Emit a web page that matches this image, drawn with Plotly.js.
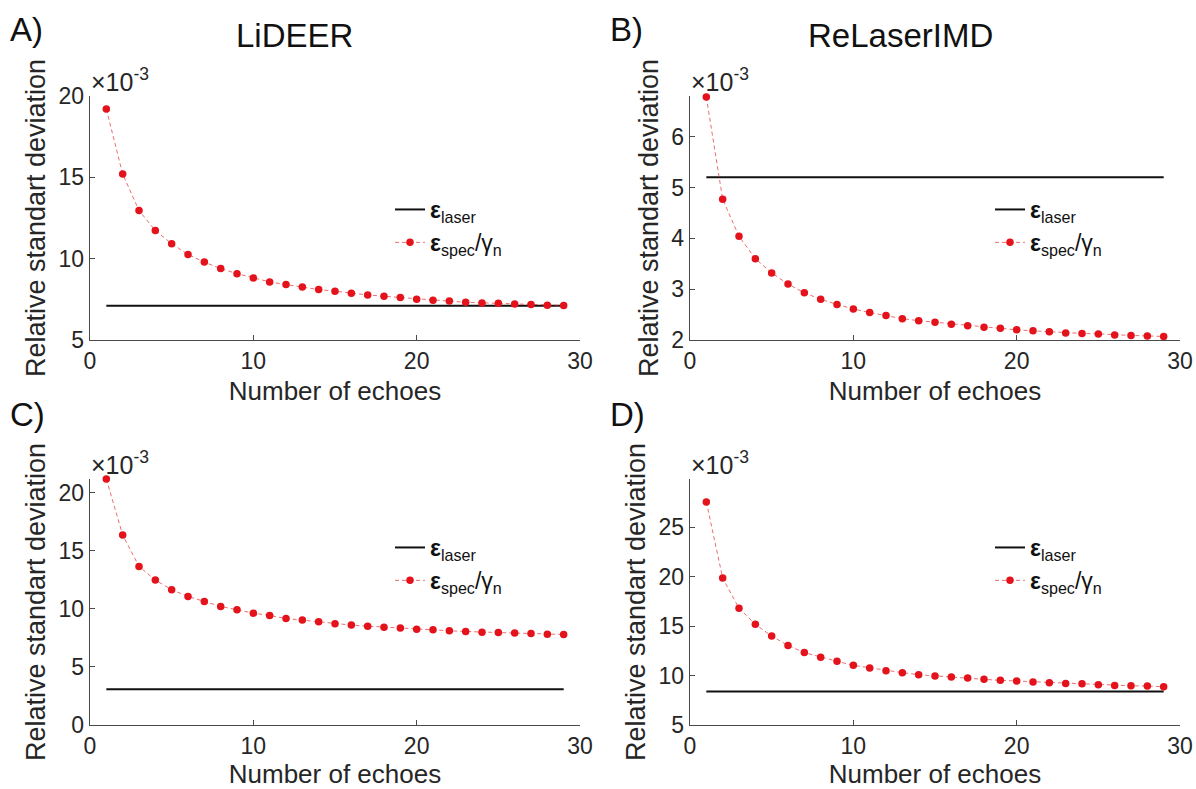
<!DOCTYPE html>
<html>
<head>
<meta charset="utf-8">
<script src="https://cdn.plot.ly/plotly-3.0.1.min.js"></script>
<style>
  html, body { margin: 0; padding: 0; background: #ffffff; }
  #chart { width: 1196px; height: 789px; }
</style>
</head>
<body>
<div id="chart"></div>
<script>
// Number of echoes on the x axis
const echoes = [1, 2, 3, 4, 5, 6, 7, 8, 9, 10, 11, 12, 13, 14, 15, 16, 17, 18, 19, 20, 21, 22, 23, 24, 25, 26, 27, 28, 29];

// Relative standard deviation (units of 1e-3)
// A) LiDEER
const specA = [19.2, 15.2, 12.96, 11.73, 10.92, 10.26, 9.79, 9.39, 9.08, 8.81, 8.57, 8.41, 8.26, 8.10, 8.00,
               7.88, 7.77, 7.69, 7.61, 7.51, 7.45, 7.39, 7.32, 7.28, 7.26, 7.22, 7.18, 7.14, 7.12];
const laserA = 7.1;
// B) ReLaserIMD
const specB = [6.78, 4.77, 4.04, 3.60, 3.32, 3.10, 2.93, 2.80, 2.70, 2.61, 2.54, 2.48, 2.42, 2.38, 2.35,
               2.31, 2.28, 2.25, 2.23, 2.20, 2.18, 2.16, 2.14, 2.13, 2.12, 2.10, 2.09, 2.08, 2.07];
const laserB = 5.2;
// C)
const specC = [21.2, 16.38, 13.67, 12.49, 11.66, 11.08, 10.65, 10.22, 9.93, 9.64, 9.44, 9.18, 9.04, 8.89, 8.72,
               8.61, 8.52, 8.43, 8.35, 8.26, 8.20, 8.12, 8.06, 8.00, 7.97, 7.92, 7.89, 7.83, 7.80];
const laserC = 3.08;
// D)
const specD = [27.58, 19.87, 16.82, 15.19, 14.0, 13.05, 12.33, 11.86, 11.45, 11.04, 10.77, 10.50, 10.30, 10.09, 9.96,
               9.86, 9.75, 9.62, 9.52, 9.45, 9.35, 9.28, 9.21, 9.18, 9.07, 9.01, 8.97, 8.94, 8.87];
const laserD = 8.4;

// Axis ranges and ticks
const xTicks = [0, 10, 20, 30];
const yRangeA = [5, 20],   yTicksA = [5, 10, 15, 20];
const yRangeB = [2, 6.8],  yTicksB = [2, 3, 4, 5, 6];
const yRangeC = [0, 21.2], yTicksC = [0, 5, 10, 15, 20];
const yRangeD = [5, 29.9], yTicksD = [5, 10, 15, 20, 25];

const panelTitles = ['LiDEER', 'ReLaserIMD'];
const panelLetters = ['A)', 'B)', 'C)', 'D)'];

const W = 1196, H = 789;
const px = x => x / W;
const py = y => 1 - y / H;

const FONT = 'Liberation Sans, Arial, Helvetica, sans-serif';
const TEXT = '#262626';
const AXIS = '#4a4a4a';
const RED = '#e3121b';

// Pixel boxes of the four axes: [left, right, top, bottom]
const boxes = [
  [90, 580, 96, 340],
  [690, 1180, 96, 340],
  [90, 580, 479, 725],
  [690, 1180, 479, 725]
];
// Top edge (px) of each panel legend
const legendTops = [188, 188, 526, 526];

const panels = [
  {spec: specA, laser: laserA, yr: yRangeA, yt: yTicksA},
  {spec: specB, laser: laserB, yr: yRangeB, yt: yTicksB},
  {spec: specC, laser: laserC, yr: yRangeC, yt: yTicksC},
  {spec: specD, laser: laserD, yr: yRangeD, yt: yTicksD}
];

const data = [];
const layout = {
  width: W, height: H,
  margin: {l: 0, r: 0, t: 0, b: 0},
  paper_bgcolor: '#ffffff',
  plot_bgcolor: 'rgba(0,0,0,0)',
  font: {family: FONT, color: TEXT},
  showlegend: true,
  annotations: []
};

panels.forEach((p, i) => {
  const n = i + 1;
  const sfx = n === 1 ? '' : String(n);
  const legendId = 'legend' + sfx;
  const b = boxes[i];

  data.push({
    x: [echoes[0], echoes[echoes.length - 1]],
    y: [p.laser, p.laser],
    xaxis: 'x' + sfx, yaxis: 'y' + sfx,
    mode: 'lines',
    line: {color: '#111111', width: 2},
    name: '<b>ε</b><sub>laser</sub>',
    legend: legendId,
    hoverinfo: 'skip'
  });
  data.push({
    x: echoes,
    y: p.spec,
    xaxis: 'x' + sfx, yaxis: 'y' + sfx,
    mode: 'lines+markers',
    line: {color: 'rgba(226,40,40,0.85)', width: 0.8, dash: '4px,3px'},
    marker: {color: RED, size: 7.5},
    cliponaxis: false,
    name: '<b>ε</b><sub>spec</sub>/γ<sub>n</sub>',
    legend: legendId,
    hoverinfo: 'skip'
  });

  layout['xaxis' + sfx] = {
    domain: [px(b[0]), px(b[1])],
    anchor: 'y' + sfx,
    range: [0, 30],
    tickmode: 'array', tickvals: xTicks,
    ticks: 'inside', ticklen: 5, tickwidth: 1, tickcolor: AXIS,
    showline: true, linecolor: AXIS, linewidth: 1.3,
    showgrid: false, zeroline: false,
    tickfont: {size: 23, color: TEXT, family: FONT},
    title: {text: 'Number of echoes', font: {size: 26, color: TEXT, family: FONT}, standoff: 9},
    fixedrange: true
  };
  layout['yaxis' + sfx] = {
    domain: [py(b[3]), py(b[2])],
    anchor: 'x' + sfx,
    range: p.yr,
    tickmode: 'array', tickvals: p.yt,
    ticks: 'inside', ticklen: 5, tickwidth: 1, tickcolor: AXIS,
    showline: true, linecolor: AXIS, linewidth: 1.3,
    showgrid: false, zeroline: false,
    tickfont: {size: 23, color: TEXT, family: FONT},
    title: {text: 'Relative standart deviation', font: {size: 27, color: TEXT, family: FONT}, standoff: 5},
    fixedrange: true
  };

  layout[legendId] = {
    x: px(b[0] + 300), y: py(legendTops[i]),
    xanchor: 'left', yanchor: 'top',
    bgcolor: 'rgba(0,0,0,0)', borderwidth: 0,
    font: {size: 23, color: '#111111', family: FONT},
    itemwidth: 30,
    tracegroupgap: 0
  };

  // scale factor label above the y axis
  layout.annotations.push({
    xref: 'paper', yref: 'paper',
    x: px(b[0] - 1), y: py(b[2] + 2),
    xanchor: 'left', yanchor: 'bottom',
    text: '×10<sup>-3</sup>',
    showarrow: false,
    font: {size: 25, color: TEXT, family: FONT}
  });

  // panel letter
  layout.annotations.push({
    xref: 'paper', yref: 'paper',
    x: px(i % 2 === 0 ? 8 : 608), y: py(i < 2 ? 30 : 414),
    xanchor: 'left', yanchor: 'middle',
    text: panelLetters[i],
    showarrow: false,
    font: {size: 33, color: '#111111', family: FONT}
  });
});

// column titles
layout.annotations.push({
  xref: 'paper', yref: 'paper', x: px(294), y: py(36),
  xanchor: 'center', yanchor: 'middle',
  text: panelTitles[0], showarrow: false,
  font: {size: 33, color: '#111111', family: FONT}
});
layout.annotations.push({
  xref: 'paper', yref: 'paper', x: px(900), y: py(36),
  xanchor: 'center', yanchor: 'middle',
  text: panelTitles[1], showarrow: false,
  font: {size: 33, color: '#111111', family: FONT}
});

Plotly.newPlot('chart', data, layout, {staticPlot: true, displayModeBar: false});
</script>
</body>
</html>
